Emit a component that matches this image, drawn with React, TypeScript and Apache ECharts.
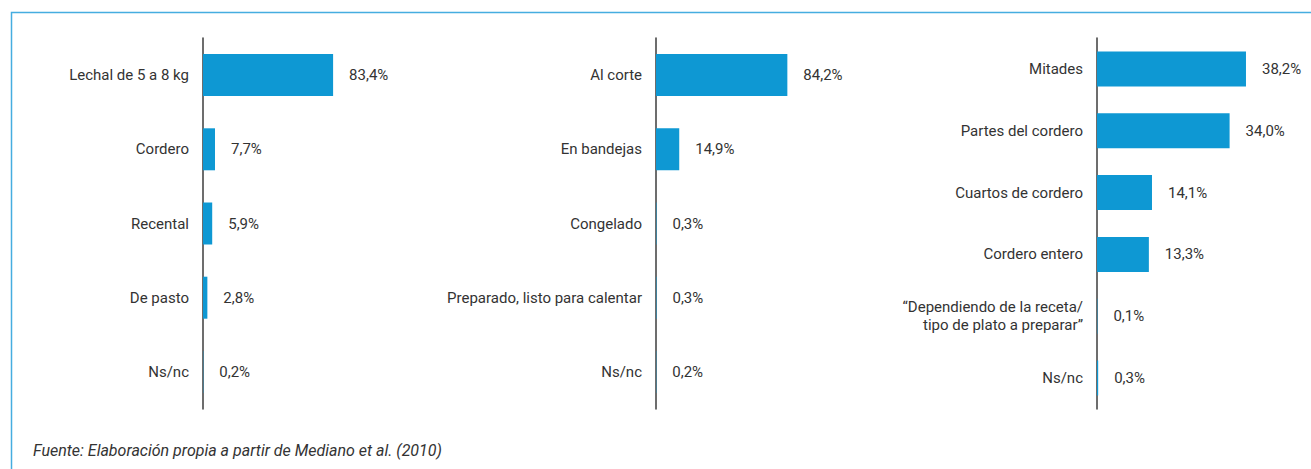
import React, { useEffect, useRef } from "react";
import * as echarts from "echarts";

const cats1 = ["Lechal de 5 a 8 kg", "Cordero", "Recental", "De pasto", "Ns/nc"];
const vals1 = [83.4, 7.7, 5.9, 2.8, 0.2];

const cats2 = ["Al corte", "En bandejas", "Congelado", "Preparado, listo para calentar", "Ns/nc"];
const vals2 = [84.2, 14.9, 0.3, 0.3, 0.2];

const cats3 = [
  "Mitades",
  "Partes del cordero",
  "Cuartos de cordero",
  "Cordero entero",
  "\u201CDependiendo de la receta/\ntipo de plato a preparar\u201D",
  "Ns/nc",
];
const vals3 = [38.2, 34.0, 14.1, 13.3, 0.1, 0.3];

const sourceText = "Fuente: Elaboración propia a partir de Mediano et al. (2010)";

const FONT = "Roboto, 'DejaVu Sans', sans-serif";
const TEXT = "#333333";
const BAR = "#0e98d3";
const AXIS = "#3c3c3c";

const fmt = (v: number) => v.toFixed(1).replace(".", ",") + "%";

export default function App() {
  const ref = useRef<HTMLDivElement>(null);
  useEffect(() => {
    if (!ref.current) return;
    const chart = echarts.init(ref.current, undefined, { renderer: "svg" });
    const grids = [
      { left: 203, top: 38, height: 371, width: 156 },
      { left: 656, top: 38, height: 371, width: 156 },
      { left: 1097, top: 38, height: 371, width: 195 },
    ];
    const cats = [cats1, cats2, cats3];
    const vals = [vals1, vals2, vals3];
    const maxes = [100, 100, 50];
    const barW = [42, 42, 35];
    chart.setOption({
      animation: false,
      grid: grids.map((g) => ({ ...g, containLabel: false })),
      xAxis: grids.map((_, i) => ({
        type: "value",
        gridIndex: i,
        min: 0,
        max: maxes[i],
        show: false,
      })),
      yAxis: grids.map((_, i) => ({
        type: "category",
        gridIndex: i,
        inverse: true,
        data: cats[i],
        axisLine: { show: true, lineStyle: { color: AXIS, width: 1.5 } },
        axisTick: { show: false },
        splitLine: { show: false },
        axisLabel: {
          margin: 14,
          color: TEXT,
          fontSize: 15,
          fontFamily: FONT,
          lineHeight: 18,
          align: "right",
        },
      })),
      series: grids.map((_, i) => ({
        type: "bar",
        xAxisIndex: i,
        yAxisIndex: i,
        data: vals[i],
        barWidth: barW[i],
        itemStyle: { color: BAR },
        label: {
          show: true,
          position: "right",
          distance: 16,
          color: TEXT,
          fontSize: 15,
          fontFamily: FONT,
          formatter: (p: any) => fmt(p.value),
        },
      })),
      graphic: [
        {
          type: "rect",
          shape: { x: 11.5, y: 12.5, width: 1400, height: 500 },
          style: { fill: "none", stroke: "#45ade0", lineWidth: 1.5 },
          silent: true,
        },
        {
          type: "text",
          left: 33,
          top: 442,
          style: {
            text: sourceText,
            fill: TEXT,
            font: `italic 16px ${FONT}`,
          },
        },
      ],
    });
    return () => chart.dispose();
  }, []);
  return (
    <div
      ref={ref}
      style={{ position: "fixed", left: 0, top: 0, width: 1311, height: 469, background: "#fff" }}
    />
  );
}
